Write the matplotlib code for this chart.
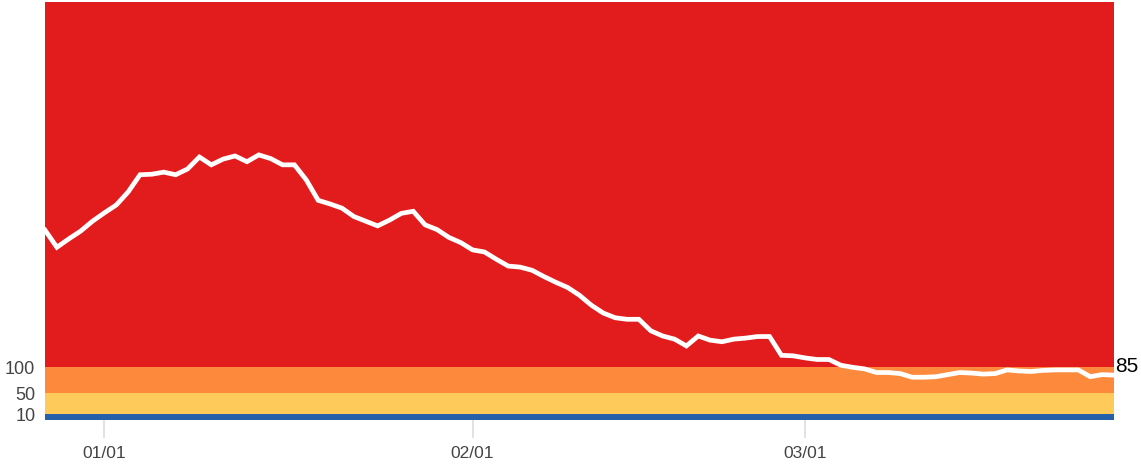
import matplotlib
matplotlib.use("Agg")
import matplotlib.pyplot as plt
import matplotlib.dates as mdates
import numpy as np
import pandas as pd

plt.rcParams['font.family'] = ['Liberation Sans', 'DejaVu Sans']

# daily values, 2020-12-27 .. 2021-03-27
start = "2020-12-27"
values = [363, 330, 346, 361, 380, 396, 411, 436, 469, 470,
          474, 469, 480, 503, 488, 499, 505, 494, 507, 500,
          488, 488, 459, 420, 413, 405, 389, 380, 371, 382,
          395, 399, 373, 364, 349, 339, 325, 321, 307, 294,
          292, 286, 274, 263, 253, 238, 219, 204, 195, 192,
          192, 170, 160, 154, 141, 160, 152, 149, 154, 156,
          159, 159, 123, 122, 118, 115, 115, 104, 100, 97,
          90, 90, 88, 81, 81, 82, 86, 90, 89, 87,
          88, 95, 93, 92, 94, 95, 95, 95, 82, 86, 85]
dates = pd.date_range(start, periods=len(values), freq="D")

# risk bands (lower, upper, colour)
band_edges = [0, 10, 50, 100, 800]
band_colors = ["#2560a8", "#fecb5b", "#fd8a3c", "#e21b1d"]
ytick_vals = [10, 50, 100]
xtick_dates = pd.to_datetime(["2021-01-01", "2021-02-01", "2021-03-01"])

fig = plt.figure(figsize=(11.41, 4.65), dpi=100)
ax = fig.add_axes([45 / 1141, 1 - 419.5 / 465, (1114 - 45) / 1141, (419.5 - 2) / 465])

for lo, hi, c in zip(band_edges[:-1], band_edges[1:], band_colors):
    ax.axhspan(lo, hi, color=c, lw=0, zorder=0)

ax.plot(dates, values, color="white", lw=3.4, solid_joinstyle="miter", zorder=3)

ax.set_ylim(band_edges[0], band_edges[-1])
ax.set_xlim(dates[0], dates[-1])

ax.set_yticks(ytick_vals)
ax.set_yticklabels([str(v) for v in ytick_vals])
ax.tick_params(axis="y", length=0, pad=7, labelsize=13, labelcolor="#444444")

ax.set_xticks(xtick_dates)
ax.xaxis.set_major_formatter(mdates.DateFormatter("%m/%d"))
ax.tick_params(axis="x", length=13, width=1.2, color="#dddddd", pad=6,
               labelsize=12.5, labelcolor="#444444")

for s in ax.spines.values():
    s.set_visible(False)

ax.annotate(str(values[-1]), xy=(dates[-1], values[-1]), xytext=(1, 6),
            textcoords="offset points", ha="left", va="center",
            fontsize=15, color="black", annotation_clip=False)

fig.savefig("out.png", dpi=100)
